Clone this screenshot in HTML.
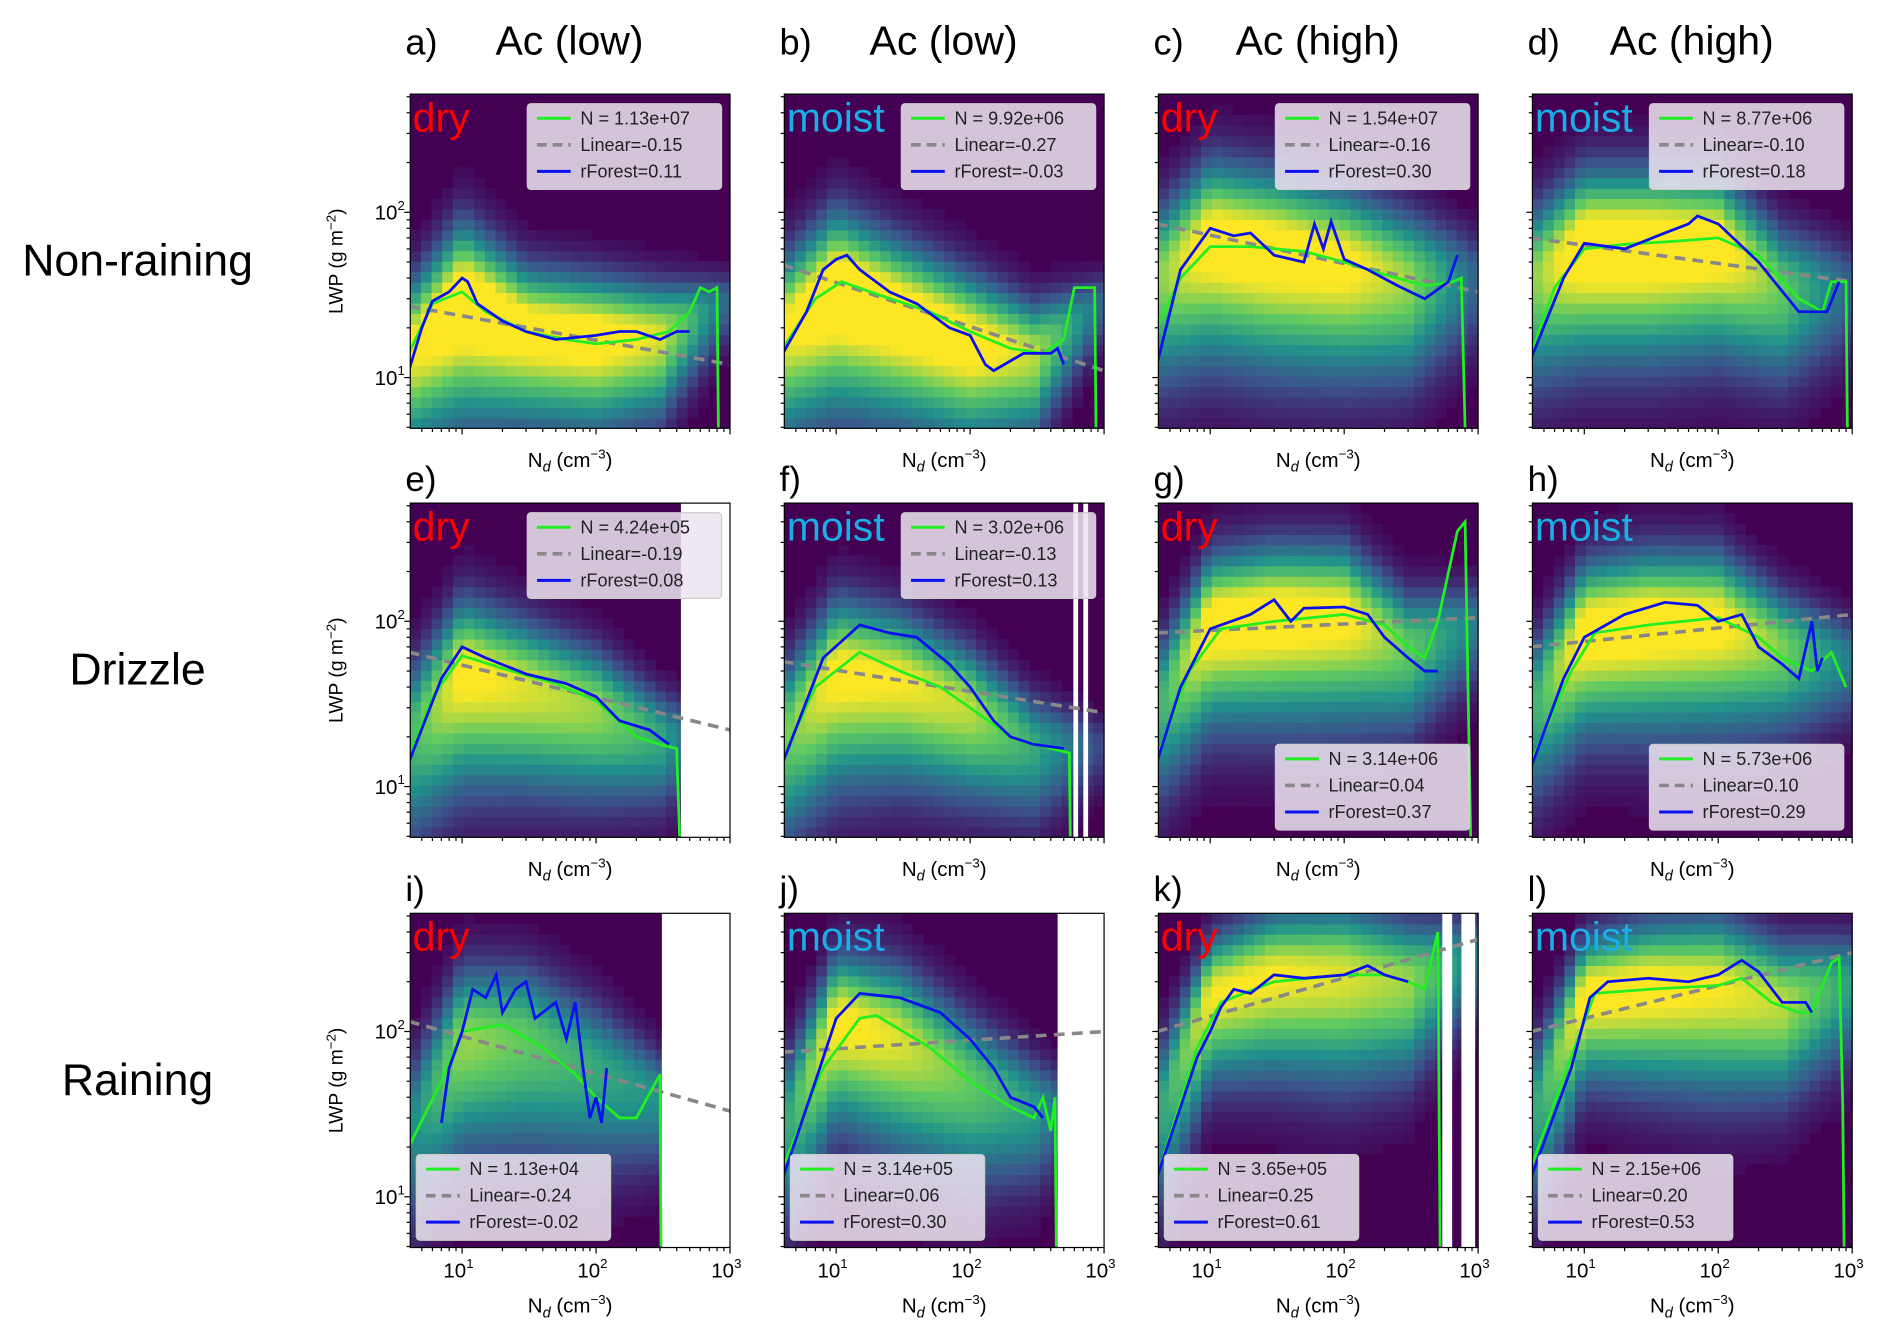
<!DOCTYPE html>
<html><head><meta charset="utf-8">
<style>
html,body{margin:0;padding:0;background:#fff;}
svg{display:block;font-family:"Liberation Sans","DejaVu Sans",sans-serif;}
</style></head>
<body>
<svg id="fig" width="1892" height="1338" viewBox="0 0 1568 1109" preserveAspectRatio="none" xmlns="http://www.w3.org/2000/svg">
<g id="heat"></g>
<g id="white"></g>
<g id="lines"></g>
<g id="axes"></g>
<g id="texts"></g>
</svg>
<script>
// ---------- data ----------
const heatKnots=[4,10,30,100,300,1000];
const panelIds=['a','b','c','d','e','f','g','h','i','j','k','l'];
const regimes=['dry','moist','dry','moist','dry','moist','dry','moist','dry','moist','dry','moist'];
const colTitles=['Ac (low)','Ac (low)','Ac (high)','Ac (high)'];
const rowTitles=['Non-raining','Drizzle','Raining'];
const legendN=['N = 1.13e+07','N = 9.92e+06','N = 1.54e+07','N = 8.77e+06','N = 4.24e+05','N = 3.02e+06','N = 3.14e+06','N = 5.73e+06','N = 1.13e+04','N = 3.14e+05','N = 3.65e+05','N = 2.15e+06'];
const legendLin=['Linear=-0.15','Linear=-0.27','Linear=-0.16','Linear=-0.10','Linear=-0.19','Linear=-0.13','Linear=0.04','Linear=0.10','Linear=-0.24','Linear=0.06','Linear=0.25','Linear=0.20'];
const legendRF=['rForest=0.11','rForest=-0.03','rForest=0.30','rForest=0.18','rForest=0.08','rForest=0.13','rForest=0.37','rForest=0.29','rForest=-0.02','rForest=0.30','rForest=0.61','rForest=0.53'];
const legendPos=['tr','tr','tr','tr','tr','tr','br','br','bl','bl','bl','bl'];
const xTickVals=[10,100,1000];
const yTickVals=[10,100];

const greenA=[[4,14],[6,28],[10,33],[15,25],[30,19],[60,17],[100,16],[200,17],[350,19],[500,25],[600,35],[700,33],[800,35],[820,5]];
const blueA=[[4,11],[5,20],[6,29],[8,33],[10,40],[11,38],[13,28],[20,22],[30,19],[50,17],[100,18],[150,19],[200,19],[300,17],[400,19],[500,19]];
const linA=[[4,27],[1000,12]];
const greenB=[[4,15],[7,30],[11,38],[20,32],[50,25],[100,19],[200,15],[350,14],[500,17],[600,35],[850,35],[870,5]];
const blueB=[[4,14],[6,25],[8,45],[10,52],[12,55],[15,45],[25,33],[40,28],[70,20],[100,18],[130,12],[150,11],[250,14],[400,14],[450,15],[500,12]];
const linB=[[4,48],[1000,11]];
const greenC=[[4,20],[6,40],[10,62],[20,62],[50,58],[100,50],[200,42],[400,36],[650,38],[750,40],[800,5]];
const blueC=[[4,12],[6,45],[10,80],[15,72],[20,75],[30,55],[50,50],[60,85],[70,60],[80,88],[100,52],[150,45],[250,36],[400,30],[600,38],[700,55]];
const linC=[[4,85],[1000,33]];
const greenD=[[4,14],[6,35],[10,60],[20,64],[50,67],[100,70],[200,55],[400,30],[600,25],[700,38],[900,38],[920,5]];
const blueD=[[4,13],[7,40],[10,65],[20,60],[40,75],[60,85],[70,95],[100,85],[200,50],[400,25],[650,25],[800,38]];
const linD=[[4,70],[1000,38]];
const greenE=[[4,15],[6,35],[10,62],[20,52],[50,42],[100,33],[200,20],[300,18],[400,17],[420,5]];
const blueE=[[4,14],[7,45],[10,70],[15,60],[30,48],[60,42],[100,35],[150,25],[250,22],[350,18]];
const linE=[[4,65],[1000,22]];
const greenF=[[4,15],[7,40],[15,65],[30,50],[60,40],[100,30],[200,20],[400,17],[550,16],[560,5]];
const blueF=[[4,14],[8,60],[15,95],[25,85],[40,80],[70,55],[100,40],[150,25],[200,20],[300,18],[500,17]];
const linF=[[4,57],[1000,28]];
const greenG=[[4,15],[7,50],[12,90],[30,100],[100,110],[200,95],[300,70],[400,60],[500,100],[700,350],[800,400],[880,5]];
const blueG=[[4,14],[6,40],[10,90],[20,110],[30,135],[40,100],[50,120],[100,122],[150,110],[200,80],[300,60],[400,50],[500,50]];
const linG=[[4,85],[1000,105]];
const greenH=[[4,14],[8,50],[12,85],[30,95],[100,105],[200,80],[300,60],[500,50],[700,65],[900,40]];
const blueH=[[4,13],[7,45],[10,80],[20,110],[40,130],[70,125],[100,100],[150,110],[200,70],[300,55],[400,45],[500,100],[550,50],[600,60]];
const linH=[[4,70],[1000,110]];
const greenI=[[4,20],[7,50],[10,100],[20,110],[40,80],[70,55],[100,40],[150,30],[200,30],[300,55],[305,5]];
const blueI=[[7,28],[8,60],[10,100],[12,180],[15,160],[18,220],[20,130],[25,180],[30,200],[35,120],[50,150],[60,90],[70,150],[80,60],[90,30],[100,40],[110,28],[120,60]];
const linI=[[4,115],[1000,33]];
const greenJ=[[4,15],[8,60],[15,120],[20,125],[50,80],[100,50],[200,35],[300,30],[350,40],[400,25],[430,40],[440,5]];
const blueJ=[[4,13],[7,50],[10,120],[15,170],[30,160],[60,130],[100,90],[150,60],[200,40],[300,35],[350,30]];
const linJ=[[4,75],[1000,100]];
const greenK=[[4,13],[8,80],[12,150],[30,200],[100,220],[200,220],[300,200],[400,180],[500,400],[520,5]];
const blueK=[[4,13],[8,70],[10,100],[12,140],[15,180],[20,170],[30,220],[50,210],[100,220],[150,250],[200,220],[300,200]];
const linK=[[4,100],[1000,360]];
const greenL=[[4,15],[8,70],[12,170],[30,180],[100,190],[150,210],[250,150],[400,130],[500,130],[700,260],[800,280],[850,35],[870,5]];
const blueL=[[4,13],[8,60],[11,160],[15,200],[30,210],[60,200],[100,220],[150,270],[200,230],[300,150],[450,150],[500,130]];
const linL=[[4,100],[1000,300]];

const heatCtr=[[15,30,20,18,18,30],[20,35,25,17,14,30],[40,70,60,50,40,40],[40,65,65,65,35,35],[20,50,40,30,20,20],[20,50,45,30,18,18],[30,100,110,110,70,100],[30,90,100,100,70,60],[25,90,90,60,40,40],[25,120,90,50,35,35],[30,170,220,220,200,300],[30,170,190,190,150,200]];
const heatAmp=[[1.0,1.2,1.1,1.1,0.95,0.3],[1.0,1.2,1.15,1.1,0.9,0.3],[0.8,1.1,1.1,1.05,0.85,0.3],[0.8,1.15,1.15,1.1,0.75,0.3],[0.65,1.05,0.95,0.85,0.6,0],[0.75,1.05,1.0,0.9,0.6,0.2],[0.6,1.1,1.1,1.05,0.75,0.4],[0.6,1.1,1.1,1.05,0.8,0.4],[0.45,0.85,0.75,0.6,0.5,0],[0.55,1.05,0.95,0.75,0.55,0],[0.55,1.0,1.0,0.95,0.85,0.4],[0.55,1.05,1.05,1.0,0.9,0.55]];
const heatWid=[[0.35,0.42,0.33,0.32,0.28,0.15],[0.38,0.42,0.38,0.35,0.28,0.15],[0.38,0.42,0.42,0.4,0.36,0.25],[0.38,0.4,0.4,0.38,0.33,0.25],[0.38,0.4,0.36,0.32,0.25,0.15],[0.38,0.4,0.36,0.32,0.27,0.15],[0.35,0.36,0.38,0.38,0.3,0.22],[0.35,0.36,0.38,0.38,0.3,0.22],[0.38,0.4,0.4,0.36,0.25,0.15],[0.38,0.36,0.4,0.36,0.28,0.15],[0.38,0.3,0.35,0.38,0.33,0.22],[0.38,0.3,0.35,0.38,0.33,0.27]];
const heatLowerStretch=1.6;
const whiteRanges=[[],[],[],[],[[430,1000]],[[590,640],[700,760]],[],[],[[310,1000]],[[450,1000]],[[540,640],[750,950]],[]];

const greens=[greenA,greenB,greenC,greenD,greenE,greenF,greenG,greenH,greenI,greenJ,greenK,greenL];
const blues=[blueA,blueB,blueC,blueD,blueE,blueF,blueG,blueH,blueI,blueJ,blueK,blueL];
const lins=[linA,linB,linC,linD,linE,linF,linG,linH,linI,linJ,linK,linL];

// ---------- layout ----------
const NS='http://www.w3.org/2000/svg';
const colX=[340,650,960,1270], rowY=[78,417,757], PW=265, PH=277;
const XMIN=Math.log10(4.1), XMAX=3, YMIN=0.693, YMAX=2.715;
function xs(p,v){return colX[p%4]+(Math.log10(v)-XMIN)/(XMAX-XMIN)*PW;}
function ys(p,v){return rowY[Math.floor(p/4)]+PH-(Math.log10(v)-YMIN)/(YMAX-YMIN)*PH;}
function mk(parent,tag,attrs){const e=document.createElementNS(NS,tag);for(const k in attrs)e.setAttribute(k,attrs[k]);parent.appendChild(e);return e;}
const vir=[[68,1,84],[59,82,139],[33,145,140],[94,201,98],[253,231,37]];
function viridis(t){t=Math.max(0,Math.min(1,t))*4;const i=Math.min(3,Math.floor(t)),f=t-i;const a=vir[i],b=vir[i+1];return 'rgb('+a.map((c,k)=>Math.round(c+(b[k]-c)*f)).join(',')+')';}
function interpK(arr,lx){const ks=heatKnots.map(Math.log10);if(lx<=ks[0])return arr[0];for(let i=0;i<ks.length-1;i++){if(lx<=ks[i+1]){const f=(lx-ks[i])/(ks[i+1]-ks[i]);return arr[i]+(arr[i+1]-arr[i])*f;}}return arr[arr.length-1];}

const heat=document.getElementById('heat'),white=document.getElementById('white'),lines=document.getElementById('lines'),axes=document.getElementById('axes'),texts=document.getElementById('texts');
const NC=30,NR=32;
for(let p=0;p<12;p++){
  const g=mk(heat,'g',{});
  
  
  const x0=colX[p%4],y0=rowY[Math.floor(p/4)];
  mk(g,'rect',{x:x0,y:y0,width:PW,height:PH,fill:'#440154'});
  const cw=PW/NC,ch=PH/NR;
  for(let i=0;i<NC;i++){
    const lx=XMIN+(i+0.5)/NC*(XMAX-XMIN);
    const c=interpK(heatCtr[p].map(Math.log10),lx);
    const amp=interpK(heatAmp[p],lx),w=interpK(heatWid[p],lx);
    for(let j=0;j<NR;j++){
      const ly=YMIN+(j+0.5)/NR*(YMAX-YMIN);
      const d=(ly-c)/(ly<c?w*heatLowerStretch:w);
      const v=Math.max(0,amp*Math.exp(-d*d));
      if(v<0.03)continue;
      mk(g,'rect',{x:(x0+i*cw).toFixed(1),y:(y0+PH-(j+1)*ch).toFixed(1),width:(cw+0.4).toFixed(1),height:(ch+0.4).toFixed(1),fill:viridis(v)});
    }
  }
  whiteRanges[p].forEach(r=>{
    const wr=mk(white,'rect',{x:xs(p,r[0]),y:y0,width:xs(p,r[1])-xs(p,r[0]),height:PH,fill:'#fff'});
    
    
  });
  const pts=a=>a.map(q=>xs(p,q[0]).toFixed(1)+','+Math.min(y0+PH,ys(p,q[1])).toFixed(1)).join(' ');
  const cp=mk(lines,'clipPath',{id:'cp'+p});mk(cp,'rect',{x:x0,y:y0,width:PW,height:PH});
  const lg=mk(lines,'g',{'clip-path':'url(#cp'+p+')'});
  const ll=mk(lg,'polyline',{points:pts(lins[p]),fill:'none',stroke:'#888',"stroke-width":3,"stroke-dasharray":'9,6'});
  
  
  const gl=mk(lg,'polyline',{points:pts(greens[p]),fill:'none',stroke:'#22ee22',"stroke-width":2.3});
  
  
  const bl=mk(lg,'polyline',{points:pts(blues[p]),fill:'none',stroke:'#0a10f0',"stroke-width":2.3});
  
  
  const fr=mk(axes,'rect',{x:x0,y:y0,width:PW,height:PH,fill:'none',stroke:'#000',"stroke-width":1});
  
  
  for(let dec=1;dec<=1000;dec*=10){for(let m=1;m<10;m++){const v=dec*m;if(v<4.1||v>1000)continue;const X=xs(p,v);const L=m===1?5:3;mk(axes,'line',{x1:X,x2:X,y1:y0+PH,y2:y0+PH+L,stroke:'#000',"stroke-width":1});}}
  for(let dec=1;dec<=100;dec*=10){for(let m=1;m<10;m++){const v=dec*m;if(v<4.95||v>519)continue;const Y=ys(p,v);const L=m===1?5:3;mk(axes,'line',{x1:x0,x2:x0-L,y1:Y,y2:Y,stroke:'#000',"stroke-width":1});}}
  const rl=mk(texts,'text',{x:x0+2,y:y0+31,"font-size":34,fill:p%2?'#19aee6':'#f00'});rl.textContent=regimes[p];
  
  
  const lw=161,lh=71;let lx0,ly0;
  if(legendPos[p]==='tr'){lx0=x0+PW-lw-7;ly0=y0+8;}
  else if(legendPos[p]==='br'){lx0=x0+PW-lw-7;ly0=y0+PH-lh-6;}
  else{lx0=x0+5;ly0=y0+PH-lh-6;}
  const lgd=mk(texts,'g',{});
  
  
  mk(lgd,'rect',{x:lx0,y:ly0,width:lw,height:lh,rx:3,fill:'rgba(236,228,240,0.86)',stroke:'#ccc'});
  const labs=[legendN[p],legendLin[p],legendRF[p]],cols=['#22ee22','#888','#0a10f0'];
  for(let k=0;k<3;k++){const yy=ly0+12+k*22;
    const ln=mk(lgd,'line',{x1:lx0+8,x2:lx0+36,y1:yy,y2:yy,stroke:cols[k],"stroke-width":k===1?3:2.5});
    if(k===1)ln.setAttribute('stroke-dasharray','8,5');
    const t=mk(lgd,'text',{x:lx0+44,y:yy+5,"font-size":15,fill:'#222'});t.textContent=labs[k];}
  const r=Math.floor(p/4);
  const xl=mk(texts,'text',{x:x0+PW/2,y:y0+PH+(r===2?54:32),"font-size":17,"text-anchor":'middle'});
  
  
  xl.innerHTML='N<tspan font-size="12" dy="4" font-style="italic">d</tspan><tspan dy="-4"> (cm</tspan><tspan font-size="11" dy="-7">−3</tspan><tspan dy="7">)</tspan>';
  if(r===2){xTickVals.forEach(v=>{const t=mk(texts,'text',{x:xs(p,v)-3,y:y0+PH+25,"font-size":17,"text-anchor":'middle'});t.innerHTML='10<tspan font-size="11" dy="-8">'+Math.round(Math.log10(v))+'</tspan>';
    
    });}
  if(p%4===0){
    yTickVals.forEach(v=>{const t=mk(texts,'text',{x:x0-17,y:ys(p,v)+6,"font-size":17,"text-anchor":'middle'});t.innerHTML='10<tspan font-size="11" dy="-8">'+Math.round(Math.log10(v))+'</tspan>';
      
      });
    const yl=mk(texts,'text',{x:0,y:0,"font-size":16,"text-anchor":'middle',transform:'translate(284,'+(y0+PH/2)+') rotate(-90)'});
    
    
    yl.innerHTML='LWP (g m<tspan font-size="11" dy="-6">−2</tspan><tspan dy="6">)</tspan>';
    const rt=mk(texts,'text',{x:114,y:y0+PH/2+12,"font-size":37,"text-anchor":'middle'});rt.textContent=rowTitles[r];
    
    
  }
  const pl=mk(texts,'text',{x:x0-4,y:r===0?45:(y0-10),"font-size":r===0?30:29});pl.textContent=panelIds[p]+')';
  
  
  if(r===0){const ct=mk(texts,'text',{x:x0+132,y:45,"font-size":34,"text-anchor":'middle'});ct.textContent=colTitles[p];
    
    }
}
</script>
</body></html>
